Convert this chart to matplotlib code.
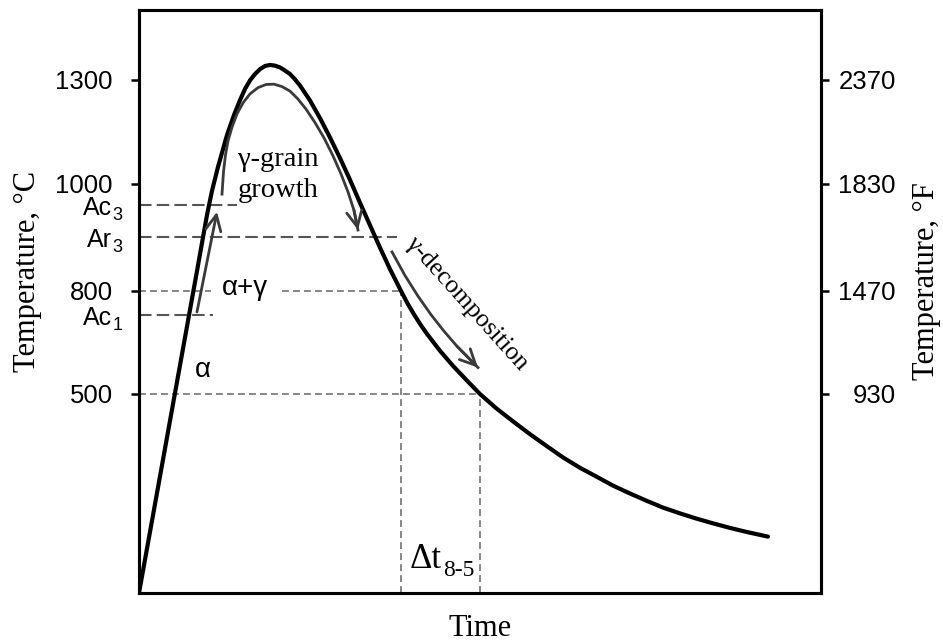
import numpy as np
import matplotlib
matplotlib.use("Agg")
import matplotlib.pyplot as plt

plt.rcParams["font.family"] = "Liberation Sans"
SERIF = "Liberation Serif"

# weld thermal cycle: time (arbitrary units) and temperature (deg C)
time = [0, 5.28, 8.50, 9.24, 9.97, 10.70, 11.58, 12.90, 13.93, 14.81, 15.54, 16.28,
        17.01, 17.74, 18.48, 19.21, 19.94, 20.67, 21.41, 22.14, 22.87, 23.61, 25.07,
        26.54, 28.01, 29.47, 30.94, 32.40, 33.87, 35.34, 36.80, 38.42, 39.37, 40.32,
        41.28, 42.23, 44.13, 46.04, 47.95, 50.0, 52.35, 54.84, 57.33, 59.82, 62.17,
        64.66, 67.16, 69.50, 71.99, 74.49, 76.83, 79.33, 81.82, 84.16, 86.66, 89.15,
        92.23]
temp = [20, 503, 837, 890, 942, 987, 1049, 1141, 1199, 1242, 1274, 1299,
        1317, 1331, 1340, 1343, 1341, 1336, 1327, 1317, 1302, 1284, 1241,
        1190, 1134, 1075, 1012, 965, 923, 881, 841, 800, 764, 732,
        702, 675, 626, 582, 542, 500, 466, 434, 403, 374, 347,
        322, 300, 279, 260, 242, 226, 212, 199, 188, 177, 167,
        156]

# gamma grain growth path (inner arrow)
growth_t = [12.17, 12.39, 12.68, 13.05, 13.64, 14.37, 15.25, 16.28, 17.45, 18.62, 19.79,
            20.97, 22.14, 23.31, 24.49, 25.81, 27.13, 28.45, 29.62, 30.65, 31.52, 32.11]
growth_T = [981, 1035, 1084, 1124, 1164, 1202, 1234, 1260, 1278, 1287, 1288,
            1281, 1268, 1245, 1216, 1177, 1133, 1081, 1029, 985, 951, 914]

# gamma decomposition path
decomp_t = [37.10, 39.00, 40.91, 42.82, 44.72, 46.63, 49.71]
decomp_T = [873, 829, 785, 731, 683, 639, 577]

# alpha -> alpha+gamma heating arrow
heat_t = [8.50, 11.44]
heat_T = [739, 948]

# critical temperatures
crit_names = ["Ac", "Ar", "Ac"]
crit_subs = ["3", "3", "1"]
crit_T = [960, 900, 730]
crit_end = [14.4, 37.8, 10.9]

ticks_C = [500, 800, 1000, 1300]
ticks_F = [int(round(c * 9 / 5 + 32, -1)) for c in ticks_C]

# schematic (non-linear) temperature axis
knot_T = [20, 500, 800, 1000, 1300, 1500]
knot_pos = [0, 199, 302, 409, 513, 583]


def fwd(T):
    return np.interp(T, knot_T, knot_pos)


def inv(p):
    return np.interp(p, knot_pos, knot_T)


fig = plt.figure(figsize=(9.43, 6.41), dpi=100)
ax = fig.add_axes([0.1474, 0.0749, 0.7232, 0.9095])
ax.set_yscale("function", functions=(fwd, inv))
ax.set_xlim(0, 100)
ax.set_ylim(knot_T[0], knot_T[-1])

# cooling time between 800 and 500 on the descending branch
peak = int(np.argmax(temp))
down_t = np.array(time[peak:])[::-1]
down_T = np.array(temp[peak:])[::-1]
t8 = np.interp(800, down_T, down_t)
t5 = np.interp(500, down_T, down_t)

# reference lines
for T, end in zip(crit_T, crit_end):
    ax.plot([0, end], [T, T], color="#555555", lw=1.5, dashes=(6, 2.5), zorder=2)
fine = dict(color="#666666", lw=1.1, dashes=(4.5, 2.7), zorder=2)
ax.plot([0, t8], [800, 800], **fine)
ax.plot([0, t5], [500, 500], **fine)
ax.plot([t8, t8], [knot_T[0], 800], **fine)
ax.plot([t5, t5], [knot_T[0], 500], **fine)

# thermal cycle
ax.plot(time, temp, color="black", lw=3, solid_capstyle="round",
        solid_joinstyle="round", zorder=4)

# process arrows
arrow_col = "#3a3a3a"
head = dict(arrowstyle="->,head_length=0.45,head_width=0.22", mutation_scale=25,
            color=arrow_col, lw=2, shrinkA=0, shrinkB=0)
ax.plot(growth_t, growth_T, color=arrow_col, lw=2, solid_joinstyle="round", zorder=4)
ax.annotate("", xy=(growth_t[-1], growth_T[-1]), xytext=(growth_t[-2], growth_T[-2]),
            arrowprops=head, zorder=4)
ax.plot(decomp_t, decomp_T, color=arrow_col, lw=2, solid_joinstyle="round", zorder=4)
ax.annotate("", xy=(decomp_t[-1], decomp_T[-1]), xytext=(decomp_t[-2], decomp_T[-2]),
            arrowprops=head, zorder=4)
ax.annotate("", xy=(heat_t[1], heat_T[1]), xytext=(heat_t[0], heat_T[0]),
            arrowprops=head, zorder=4)

# phase labels
ax.text(0.2038, 0.717, "γ-grain\ngrowth", transform=ax.transAxes, family=SERIF,
        fontsize=20.5, ha="center", va="center", linespacing=1.3, zorder=5)
ax.text(0.481, 0.497, "γ-decomposition", transform=ax.transAxes, family=SERIF,
        fontsize=18.5, ha="center", va="center", rotation=-48,
        rotation_mode="anchor", zorder=5)
ax.text(0.1554, 0.523, "α+γ", transform=ax.transAxes, fontsize=20,
        ha="center", va="center", zorder=3,
        bbox=dict(facecolor="white", edgecolor="none", pad=8))
ax.text(0.0938, 0.3825, "α", transform=ax.transAxes, fontsize=20,
        ha="center", va="center", zorder=5)

dt = ax.text(0.3974, 0.0429, "Δt", transform=ax.transAxes, family=SERIF,
             fontsize=25, ha="left", va="baseline")
ax.annotate("8-5", xy=(1, 0), xycoords=dt, xytext=(0.5, 0), textcoords="offset points",
            family=SERIF, fontsize=17, ha="left", va="baseline")

# critical temperature labels beside the axis
for name, sub, T in zip(crit_names, crit_subs, crit_T):
    lab = ax.annotate(name, xy=(-0.0396, T), xycoords=("axes fraction", "data"),
                      xytext=(0, -2), textcoords="offset points",
                      fontsize=18, ha="right", va="center", annotation_clip=False)
    ax.annotate(sub, xy=(1, 0), xycoords=lab, xytext=(0.5, 0), textcoords="offset points",
                fontsize=13, ha="left", va="baseline", annotation_clip=False)

# axes, ticks and labels
ax.set_xticks([])
ax.set_yticks(ticks_C)
ax.set_yticklabels([str(c) for c in ticks_C])
ax.tick_params(axis="y", direction="out", length=6, width=1.8, pad=13, labelsize=18.5)
for s in ax.spines.values():
    s.set_linewidth(2.2)

ax.set_xlabel("Time", family=SERIF, fontsize=22, labelpad=15)
ax.set_ylabel("Temperature, °C", family=SERIF, fontsize=22)
ax.yaxis.set_label_coords(-0.163, 0.551)
ax.yaxis.label.set_va("center")

ax2 = ax.twinx()
ax2.set_yscale("function", functions=(fwd, inv))
ax2.set_ylim(knot_T[0], knot_T[-1])
ax2.set_yticks(ticks_C)
ax2.set_yticklabels([str(f) for f in ticks_F])
ax2.tick_params(axis="y", direction="out", length=6, width=1.8, pad=48, labelsize=18.5)
plt.setp(ax2.get_yticklabels(), ha="right")
for s in ax2.spines.values():
    s.set_linewidth(2.2)
ax2.set_ylabel("Temperature, °F", family=SERIF, fontsize=22)
ax2.yaxis.set_label_coords(1.155, 0.535)
ax2.yaxis.label.set_va("center")

fig.savefig("out.png", dpi=100)
